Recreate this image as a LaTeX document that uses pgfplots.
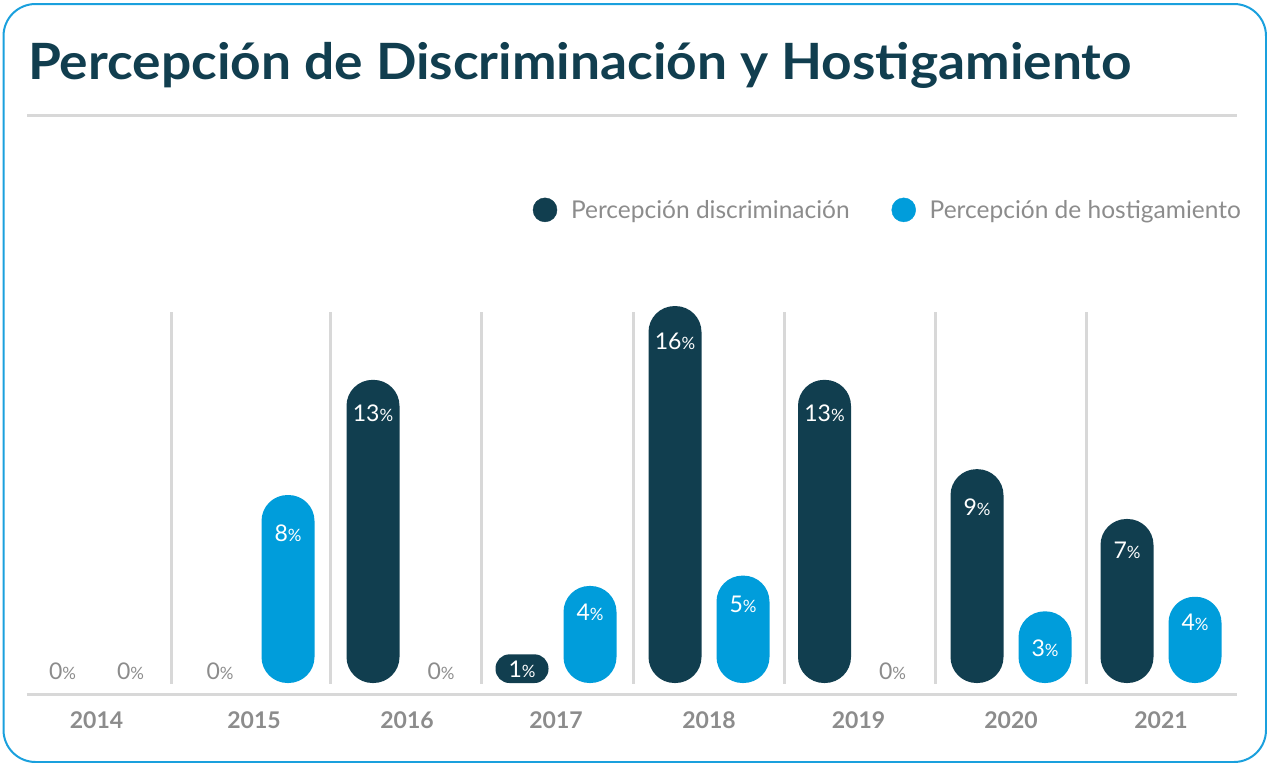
\documentclass[border=0pt]{standalone}
\usepackage{fontspec}
\setmainfont{Lato}
\newfontfamily\titlefont{Lato}[FakeStretch=1.066]
\usepackage{pgfplots}
\pgfplotsset{compat=1.18}
\usepackage{pgfplotstable}
\definecolor{dark}{HTML}{113E4F}
\definecolor{lblue}{HTML}{009DDB}
\definecolor{txtgray}{HTML}{8C8C8C}
\definecolor{linegray}{HTML}{D8D8D8}
\definecolor{framecol}{HTML}{1AA0DD}

% x = pixel centre of each year group, y = value in %
\pgfplotstableread{
x y dy
407 12.9 -33
709 16.04 -35
858.5 12.9 -33
1011 9.1 -38
1161 6.98 -31
}\darkdata
\pgfplotstableread{
x y dy
556 1.22 -14.5
}\darksmall
\pgfplotstableread{
x y dy
254 8.0 -38
556 4.13 -26
709 4.57 -29
1011 3.05 -37
1161 3.67 -26
}\bluedata
\pgfplotstableread{
x y
96.5 0
254 0
}\darkzero
\pgfplotstableread{
x y
96.5 0
407 0
858.5 0
}\bluezero

\newcommand{\pct}{{\fontsize{17}{17}\selectfont\%}}

\begin{document}
\begin{tikzpicture}
\useasboundingbox (0,0) rectangle (1267pt,-763pt);
\draw[framecol, line width=2pt, rounded corners=32pt] (3.5pt,-4pt) rectangle (1266pt,-762pt);
\node[anchor=base west, text=dark, font=\fontsize{50}{50}\titlefont\bfseries, inner sep=0pt]
  at (28pt,-79pt) {Percepción de Discriminación y Hostigamiento};
\draw[linegray, line width=3pt] (27pt,-115pt) -- (1237pt,-115pt);
% separators
\foreach \sx in {171,330,481,633,784,935,1086}{
  \draw[linegray, line width=3pt] (\sx pt,-312pt) -- (\sx pt,-684pt);
}
\begin{axis}[
  scale only axis, x=1pt, y=23.5pt,
  xmin=27, xmax=1237, ymin=-0.5, ymax=17,
  anchor=south west, at={(27pt,-694.75pt)},
  clip=false,
  axis x line*=bottom, axis y line=none,
  x axis line style={-, draw=linegray, line width=3pt},
  xtick={96.5,254,407,556,709,858.5,1011,1161},
  xticklabels={2014,2015,2016,2017,2018,2019,2020,2021},
  major tick length=0pt,
  xticklabel style={font=\fontsize{23}{23}\selectfont\bfseries, text=txtgray, anchor=center, yshift=-25pt},
  /pgf/number format/.cd, fixed, precision=0, assume math mode=true, /pgfplots/.cd,
  legend columns=2,
  legend style={draw=none, fill=none, at={(1.0075,1.179)}, anchor=east,
    font=\fontsize{24.5}{24.5}\selectfont, text=txtgray,
    column sep=12pt,
    /tikz/every even column/.append style={column sep=40pt}},
]
\addlegendimage{only marks, mark=*, mark size=12pt, color=dark}
\addlegendentry{Percepción discriminación}
\addlegendimage{only marks, mark=*, mark size=12pt, color=lblue}
\addlegendentry{Percepción de hostigamiento}

\addplot[forget plot, ybar, bar width=53pt, bar shift=-34pt, fill=dark, draw=none, rounded corners=26pt,
  visualization depends on={\thisrow{dy}\as\dy},
  nodes near coords={\pgfmathprintnumber{\pgfplotspointmeta}\pct},
  every node near coord/.append style={anchor=center, text=white, xshift=-34pt, yshift=\dy, font=\fontsize{23}{23}\selectfont, rounded corners=0pt}]
  table[x=x, y=y] {\darkdata};
\addplot[forget plot, ybar, bar width=53pt, bar shift=-34pt, fill=dark, draw=none, rounded corners=14pt,
  visualization depends on={\thisrow{dy}\as\dy},
  nodes near coords={\pgfmathprintnumber{\pgfplotspointmeta}\pct},
  every node near coord/.append style={anchor=center, text=white, xshift=-34pt, yshift=\dy, font=\fontsize{23}{23}\selectfont, rounded corners=0pt}]
  table[x=x, y=y] {\darksmall};
\addplot[forget plot, ybar, bar width=53pt, bar shift=34pt, fill=lblue, draw=none, rounded corners=26pt,
  visualization depends on={\thisrow{dy}\as\dy},
  nodes near coords={\pgfmathprintnumber{\pgfplotspointmeta}\pct},
  every node near coord/.append style={anchor=center, text=white, xshift=34pt, yshift=\dy, font=\fontsize{23}{23}\selectfont, rounded corners=0pt}]
  table[x=x, y=y] {\bluedata};
\addplot[forget plot, draw=none, mark=none,
  nodes near coords={0\pct},
  every node near coord/.append style={anchor=center, text=txtgray, xshift=-34pt, yshift=12pt, font=\fontsize{23}{23}\selectfont}]
  table[x=x, y=y] {\darkzero};
\addplot[forget plot, draw=none, mark=none,
  nodes near coords={0\pct},
  every node near coord/.append style={anchor=center, text=txtgray, xshift=34pt, yshift=12pt, font=\fontsize{23}{23}\selectfont}]
  table[x=x, y=y] {\bluezero};
\end{axis}
\end{tikzpicture}
\end{document}
